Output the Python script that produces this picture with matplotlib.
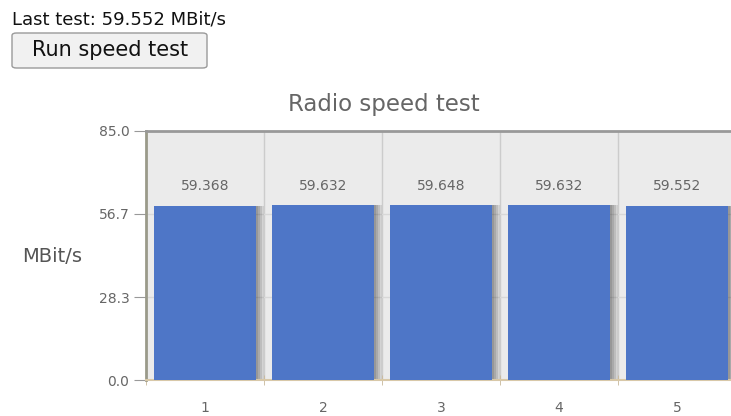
import numpy as np
import matplotlib
matplotlib.use("Agg")
import matplotlib.pyplot as plt
from matplotlib.patches import FancyBboxPatch

categories = [1, 2, 3, 4, 5]
speeds = [59.368, 59.632, 59.648, 59.632, 59.552]
yticks = [0.0, 28.3, 56.7, 85.0]
ymax = 85.0

W, H = 731, 416
fig = plt.figure(figsize=(W / 100, H / 100), dpi=100)
fig.patch.set_facecolor("white")

# header text and button
fig.text(12 / W, 1 - 19 / H, "Last test: 59.552 MBit/s", fontsize=13,
         color="#111111", va="center", ha="left")
btn = FancyBboxPatch((12 / W, 1 - 68 / H), 195 / W, 35 / H,
                     boxstyle="round,pad=0,rounding_size=0.006",
                     transform=fig.transFigure, facecolor="#f1f1f1",
                     edgecolor="#9a9a9a", linewidth=1.0)
fig.patches.append(btn)
fig.text(110 / W, 1 - 50 / H, "Run speed test", fontsize=15,
         color="#111111", va="center", ha="center")

ax = fig.add_axes([146 / W, 36 / H, 590 / W, 249 / H])
ax.set_facecolor("#ebebeb")
x = np.array(categories)
width = 0.865

# shadow
for k in range(4):
    off = (2 + k * 2) / 118
    ax.bar(x + off, speeds, width=width, color="black", alpha=0.10, zorder=2,
           linewidth=0)
ax.bar(x, speeds, width=width, color="#4e76c7", zorder=3, linewidth=0)

for xi, v in zip(x, speeds):
    ax.text(xi, 66.2, f"{v:.3f}", ha="center", va="center", fontsize=10,
            color="#666666", zorder=4)

ax.set_xlim(0.5, 5.5)
ax.set_ylim(0, ymax)
ax.set_yticks(yticks)
ax.set_yticklabels([f"{t:.1f}" for t in yticks], fontsize=10, color="#666666")
ax.set_xticks(x)
ax.set_xticklabels([str(c) for c in categories], fontsize=10, color="#666666")
ax.tick_params(axis="x", length=0, pad=15)
ax.tick_params(axis="y", length=9, color="#999999", pad=3, direction="out")
ax.set_xticks(np.arange(0.5, 6.0, 1.0), minor=True)
ax.tick_params(axis="x", which="minor", length=7, color="#c8b89a", direction="inout")

for xv in np.arange(1.5, 5.5, 1.0):
    ax.axvline(xv, color="#cccccc", linewidth=1, zorder=1)
for yv in yticks[1:3]:
    ax.axhline(yv, color="#d8d8d8", linewidth=1, zorder=1)

for s in ["top", "right"]:
    ax.spines[s].set_visible(False)
ax.spines["left"].set_color("#9a9a8a")
ax.spines["left"].set_linewidth(2)
ax.spines["bottom"].set_color("#d8c8a8")
ax.spines["bottom"].set_linewidth(1.5)
ax.axhline(ymax, color="#999999", linewidth=2, zorder=5, clip_on=False)

fig.text(384 / W, 1 - 104 / H, "Radio speed test", fontsize=16.5,
         color="#666666", ha="center", va="center")
fig.text(22 / W, 1 - 257 / H, "MBit/s", fontsize=14, color="#555555",
         ha="left", va="center")

fig.savefig("out.png", dpi=100)
